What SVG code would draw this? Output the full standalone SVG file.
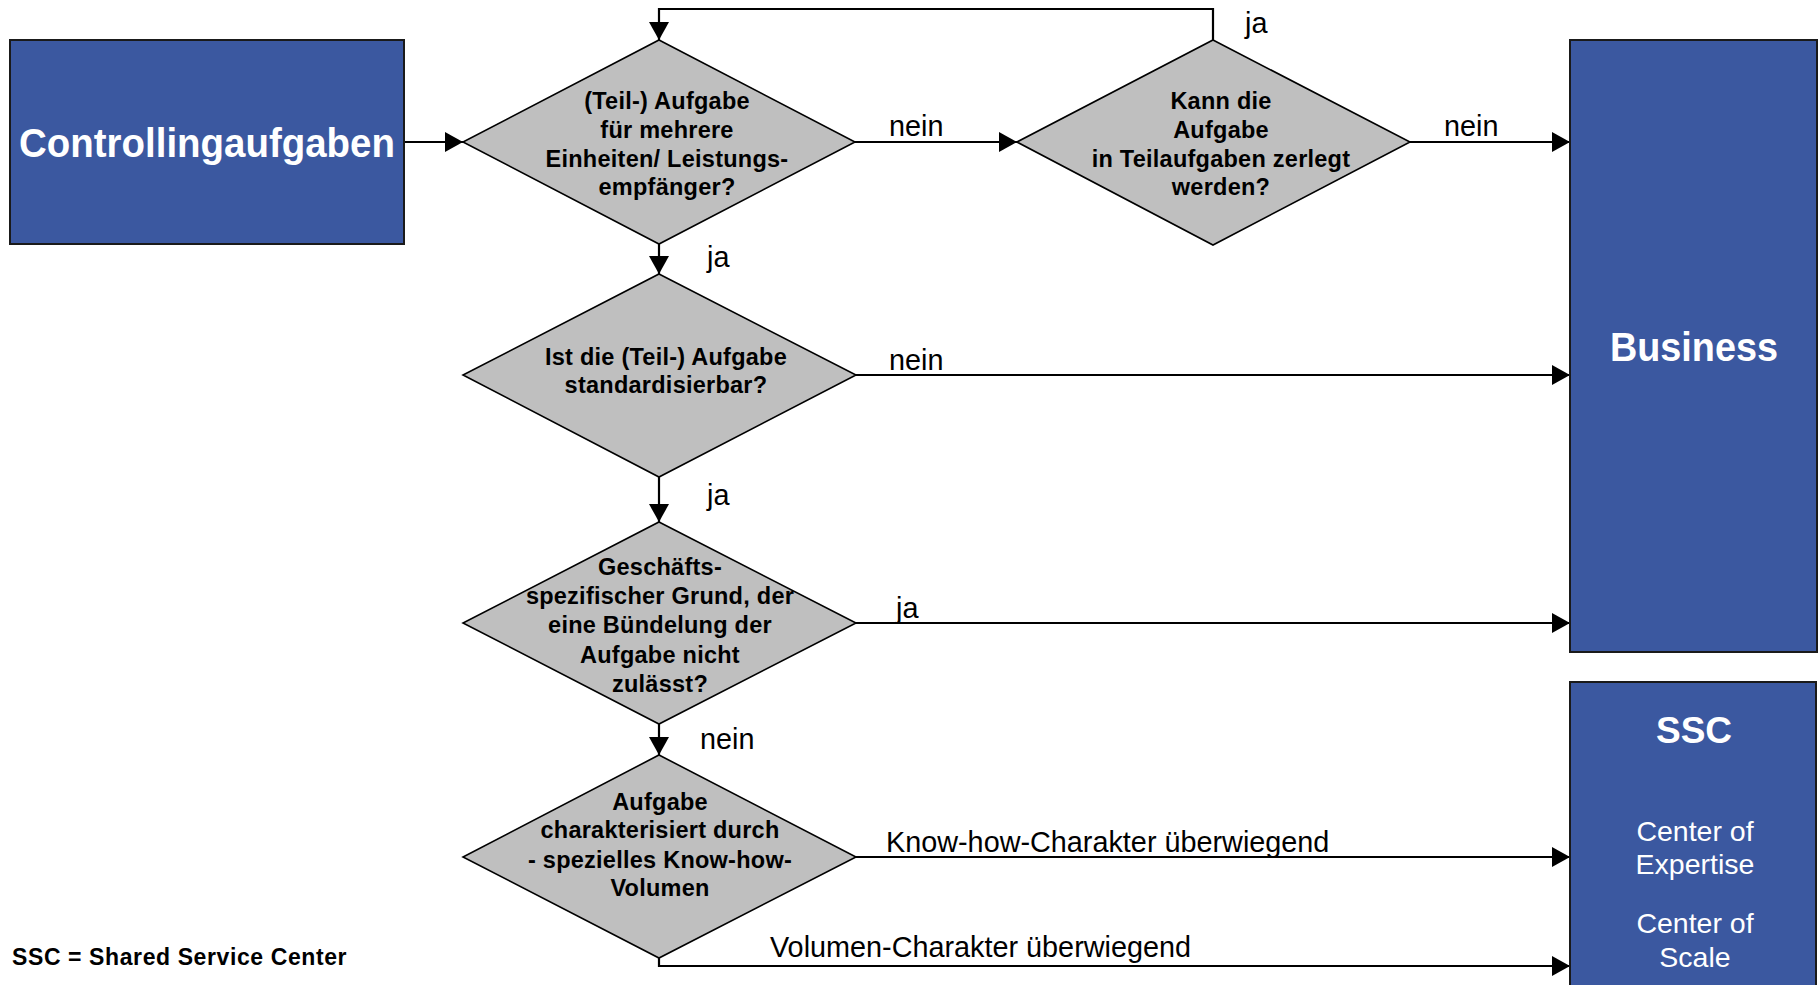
<svg xmlns="http://www.w3.org/2000/svg" width="1820" height="985" viewBox="0 0 1820 985">
<style>
.box{fill:#3b58a0;stroke:#1a1a1a;stroke-width:2}
.dia{fill:#bfbfbf;stroke:#000;stroke-width:1.6}
.con{fill:none;stroke:#000;stroke-width:2.2}
.wt{fill:#fff;font-family:"Liberation Sans",Arial,sans-serif;text-anchor:middle}
.dt{fill:#000;font-family:"Liberation Sans",Arial,sans-serif;font-weight:bold;font-size:23.5px;letter-spacing:0.25px;text-anchor:middle}
.lb{fill:#000;font-family:"Liberation Sans",Arial,sans-serif;font-size:28.8px}
</style>
<defs>
<marker id="ah" viewBox="0 0 18 20" refX="18" refY="10" markerWidth="18" markerHeight="20" markerUnits="userSpaceOnUse" orient="auto">
<path d="M0,0 L18,10 L0,20 z" fill="#000"/>
</marker>
</defs>
<rect width="1820" height="985" fill="#fff"/>

<g id="connectors">
<path class="con" d="M404,142 L463,142" marker-end="url(#ah)"/>
<path class="con" d="M855,142 L1017,142" marker-end="url(#ah)"/>
<path class="con" d="M1410,142 L1570,142" marker-end="url(#ah)"/>
<path class="con" d="M1213,40 L1213,9 L659,9 L659,40" marker-end="url(#ah)"/>
<path class="con" d="M659,244 L659,274" marker-end="url(#ah)"/>
<path class="con" d="M856,375 L1570,375" marker-end="url(#ah)"/>
<path class="con" d="M659,477 L659,522" marker-end="url(#ah)"/>
<path class="con" d="M856,623 L1570,623" marker-end="url(#ah)"/>
<path class="con" d="M659,724 L659,755" marker-end="url(#ah)"/>
<path class="con" d="M856,857 L1570,857" marker-end="url(#ah)"/>
<path class="con" d="M659,958 L659,966 L1570,966" marker-end="url(#ah)"/>
<text class="lb" x="1245" y="33">ja</text>
<text class="lb" x="889" y="136">nein</text>
<text class="lb" x="1444" y="136">nein</text>
<text class="lb" x="707" y="267">ja</text>
<text class="lb" x="889" y="370">nein</text>
<text class="lb" x="707" y="505">ja</text>
<text class="lb" x="896" y="618">ja</text>
<text class="lb" x="700" y="749">nein</text>
<text class="lb" x="886" y="852">Know-how-Charakter überwiegend</text>
<text class="lb" x="770" y="957">Volumen-Charakter überwiegend</text>
</g>

<g id="controlling">
<rect class="box" x="10" y="40" width="394" height="204"/>
<text class="wt" x="207" y="157" font-size="41" font-weight="bold" textLength="376" lengthAdjust="spacingAndGlyphs">Controllingaufgaben</text>
</g>

<g id="d1">
<polygon class="dia" points="659,40 855,142 659,244 463,142"/>
<text class="dt" x="667" y="109">(Teil-) Aufgabe</text>
<text class="dt" x="667" y="138">für mehrere</text>
<text class="dt" x="667" y="167">Einheiten/ Leistungs-</text>
<text class="dt" x="667" y="195">empfänger?</text>
</g>

<g id="d-kann">
<polygon class="dia" points="1213,40 1410,142 1213,245 1017,142"/>
<text class="dt" x="1221" y="109">Kann die</text>
<text class="dt" x="1221" y="138">Aufgabe</text>
<text class="dt" x="1221" y="167">in Teilaufgaben zerlegt</text>
<text class="dt" x="1221" y="195">werden?</text>
</g>

<g id="d2">
<polygon class="dia" points="659,274 856,375 659,477 463,375"/>
<text class="dt" x="666" y="365">Ist die (Teil-) Aufgabe</text>
<text class="dt" x="666" y="393">standardisierbar?</text>
</g>

<g id="d3">
<polygon class="dia" points="659,522 856,623 659,724 463,623"/>
<text class="dt" x="660" y="575">Geschäfts-</text>
<text class="dt" x="660" y="604">spezifischer Grund, der</text>
<text class="dt" x="660" y="633">eine Bündelung der</text>
<text class="dt" x="660" y="663">Aufgabe nicht</text>
<text class="dt" x="660" y="692">zulässt?</text>
</g>

<g id="d4">
<polygon class="dia" points="659,755 856,857 659,958 463,857"/>
<text class="dt" x="660" y="810">Aufgabe</text>
<text class="dt" x="660" y="838">charakterisiert durch</text>
<text class="dt" x="660" y="868">- spezielles Know-how-</text>
<text class="dt" x="660" y="896">Volumen</text>
</g>

<g id="business">
<rect class="box" x="1570" y="40" width="247" height="612"/>
<text class="wt" x="1694" y="361" font-size="41" font-weight="bold" textLength="168" lengthAdjust="spacingAndGlyphs">Business</text>
</g>

<g id="ssc">
<rect class="box" x="1570" y="682" width="246" height="330"/>
<text class="wt" x="1694" y="743" font-size="37" font-weight="bold">SSC</text>
<text class="wt" x="1695" y="841" font-size="28.5">Center of</text>
<text class="wt" x="1695" y="874" font-size="28.5">Expertise</text>
<text class="wt" x="1695" y="933" font-size="28.5">Center of</text>
<text class="wt" x="1695" y="967" font-size="28.5">Scale</text>
</g>

<g id="legend">
<text x="12" y="965" font-family="'Liberation Sans',Arial,sans-serif" font-weight="bold" font-size="23" letter-spacing="0.6">SSC = Shared Service Center</text>
</g>
</svg>
